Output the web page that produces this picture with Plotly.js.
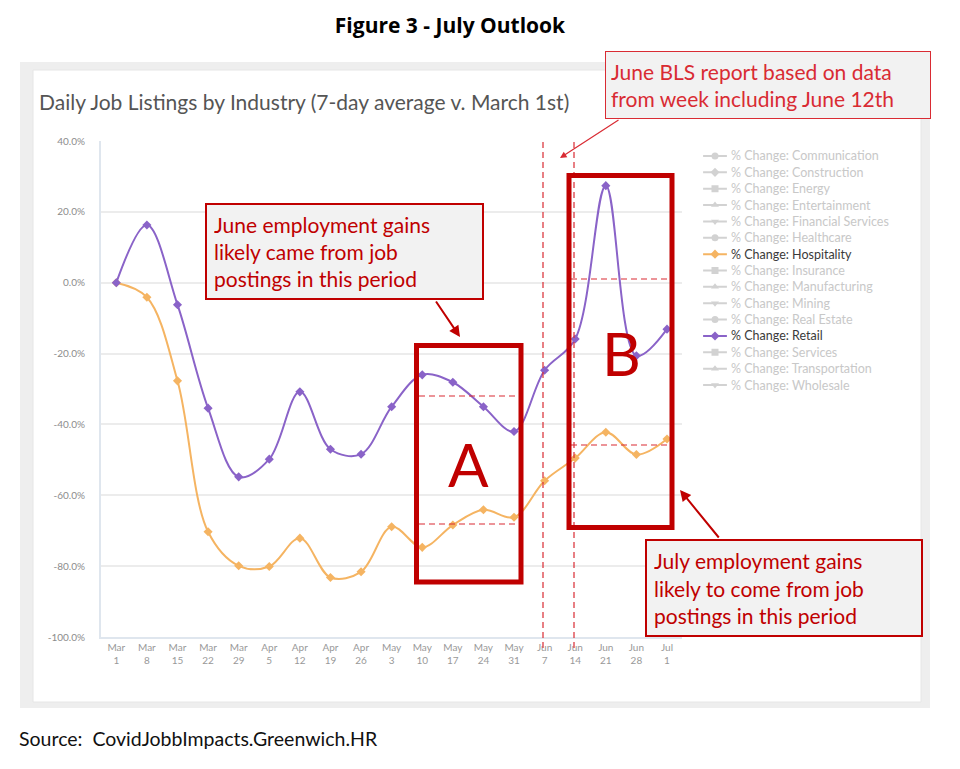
<!DOCTYPE html>
<html>
<head>
<meta charset="utf-8">
<script src="https://cdn.plot.ly/plotly-3.0.1.min.js"></script>
<style>html,body{margin:0;padding:0;background:#fff;}#chart{width:960px;height:769px;}</style>
</head>
<body>
<div id="chart"></div>
<script>
// ---- data ----
const dates = ['Mar<br>1','Mar<br>8','Mar<br>15','Mar<br>22','Mar<br>29','Apr<br>5','Apr<br>12','Apr<br>19','Apr<br>26','May<br>3','May<br>10','May<br>17','May<br>24','May<br>31','Jun<br>7','Jun<br>14','Jun<br>21','Jun<br>28','Jul<br>1'];
const retail = [0, 16.3, -6.2, -35.4, -54.8, -49.8, -30.8, -47.0, -48.4, -35.0, -26.0, -28.1, -35.0, -42.0, -24.7, -15.9, 27.4, -20.6, -13.1];
const hospitality = [0, -4.1, -27.7, -70.3, -79.9, -80.1, -72.1, -83.2, -81.6, -68.9, -74.7, -68.4, -64.1, -66.2, -55.9, -49.5, -42.2, -48.5, -44.1];
const industries = ['Communication','Construction','Energy','Entertainment','Financial Services','Healthcare','Hospitality','Insurance','Manufacturing','Mining','Real Estate','Retail','Services','Transportation','Wholesale'];
const legendSymbols = ['circle','diamond','square','triangle-up','triangle-down','circle','diamond','square','triangle-up','triangle-down','circle','diamond','square','triangle-up','triangle-down'];
const yTicks = [-100,-80,-60,-40,-20,0,20,40];
const yTickText = ['-100.0%','-80.0%','-60.0%','-40.0%','-20.0%','0.0%','20.0%','40.0%'];

// ---- styling / geometry ----
const W = 960, H = 769, L = 101, T = 141, R = 20, B = 132;
const PW = W - L - R, PH = H - T - B;
const X = px => (px - L) / PW;
const Y = py => (T + PH - py) / PH;
const RED = '#c00000';
const RED2 = '#d92b33';
const PURPLE = '#8a63c8';
const ORANGE = '#f5b462';
const FONT = 'Lato, "Open Sans", sans-serif';

const activeColor = name => name === 'Hospitality' ? ORANGE : (name === 'Retail' ? PURPLE : '#d2d2d2');

const traces = [
  {x: dates, y: hospitality, type: 'scatter', mode: 'lines+markers', name: '% Change: Hospitality',
   line: {color: ORANGE, width: 2, shape: 'spline', smoothing: 1}, marker: {symbol: 'diamond', size: 7, color: ORANGE}, hoverinfo: 'skip'},
  {x: dates, y: retail, type: 'scatter', mode: 'lines+markers', name: '% Change: Retail',
   line: {color: PURPLE, width: 2, shape: 'spline', smoothing: 1}, marker: {symbol: 'diamond', size: 7, color: PURPLE}, hoverinfo: 'skip'},
  // legend keys (line segments)
  {x: industries.map(() => 15), y: industries, xaxis: 'x2', yaxis: 'y2', type: 'scatter', mode: 'markers',
   marker: {symbol: 'line-ew', size: 17, line: {width: 2, color: industries.map(activeColor)}}, hoverinfo: 'skip'},
  // legend keys (symbols)
  {x: industries.map(() => 15), y: industries, xaxis: 'x2', yaxis: 'y2', type: 'scatter', mode: 'markers',
   marker: {symbol: legendSymbols, size: 7, color: industries.map(activeColor)}, hoverinfo: 'skip'}
];

const shapes = [
  // outer gray panel and white card
  {type: 'rect', xref: 'paper', yref: 'paper', x0: X(20), x1: X(930), y0: Y(708), y1: Y(62), fillcolor: '#eeeeee', line: {width: 0}, layer: 'below'},
  {type: 'rect', xref: 'paper', yref: 'paper', x0: X(33), x1: X(921), y0: Y(702), y1: Y(70), fillcolor: '#ffffff', line: {width: 1, color: '#e6e6e6'}, layer: 'below'},
  // vertical dashed lines
  {type: 'line', xref: 'paper', yref: 'paper', x0: X(543), x1: X(543), y0: Y(648), y1: Y(138), line: {color: RED2, width: 1.2, dash: '6px,4px'}},
  {type: 'line', xref: 'paper', yref: 'paper', x0: X(574), x1: X(574), y0: Y(648), y1: Y(138), line: {color: RED2, width: 1.2, dash: '6px,4px'}},
  // horizontal dashed lines inside boxes
  {type: 'line', xref: 'paper', yref: 'paper', x0: X(419), x1: X(519), y0: Y(396), y1: Y(396), line: {color: RED2, width: 1.2, dash: '6px,4px'}},
  {type: 'line', xref: 'paper', yref: 'paper', x0: X(419), x1: X(519), y0: Y(524), y1: Y(524), line: {color: RED2, width: 1.2, dash: '6px,4px'}},
  {type: 'line', xref: 'paper', yref: 'paper', x0: X(571), x1: X(670), y0: Y(279), y1: Y(279), line: {color: RED2, width: 1.2, dash: '6px,4px'}},
  {type: 'line', xref: 'paper', yref: 'paper', x0: X(571), x1: X(670), y0: Y(445), y1: Y(445), line: {color: RED2, width: 1.2, dash: '6px,4px'}},
  // boxes A and B
  {type: 'rect', xref: 'paper', yref: 'paper', x0: X(416.5), x1: X(521), y0: Y(582), y1: Y(345.5), line: {color: RED, width: 5}},
  {type: 'rect', xref: 'paper', yref: 'paper', x0: X(569), x1: X(672), y0: Y(527.5), y1: Y(175.5), line: {color: RED, width: 5}}
];

function callout(x0, y0, w, h, text, bw, pad, color, bcolor) {
  return {xref: 'paper', yref: 'paper', x: X(x0), y: Y(y0), xanchor: 'left', yanchor: 'top', showarrow: false,
    text: text, align: 'left', valign: 'middle', width: w - 2 * pad - bw, height: h - 2 * pad - bw,
    bgcolor: '#f2f2f2', bordercolor: bcolor, borderwidth: bw, borderpad: pad,
    font: {family: FONT, size: 21, color: color}};
}
function arrow(tx, ty, hx, hy, color, w) {
  return {xref: 'paper', yref: 'paper', x: X(hx), y: Y(hy), ax: tx - hx, ay: ty - hy, text: '', showarrow: true,
    arrowhead: 2, arrowsize: 1.1, arrowwidth: w, arrowcolor: color, standoff: 0, startstandoff: 0};
}

const annotations = [
  {xref: 'paper', yref: 'paper', x: X(37), y: Y(101), xanchor: 'left', yanchor: 'middle', showarrow: false,
   text: 'Daily Job Listings by Industry (7-day average v. March 1st)', font: {family: FONT, size: 21, color: '#555555'}},
  {xref: 'paper', yref: 'paper', x: X(17), y: Y(738), xanchor: 'left', yanchor: 'middle', showarrow: false,
   text: 'Source:  CovidJobbImpacts.Greenwich.HR', font: {family: FONT, size: 19.5, color: '#111111'}},
  callout(205, 203, 277, 95, 'June employment gains<br>likely came from job<br>postings in this period', 2, 7, RED, RED),
  callout(605, 51, 325, 67, 'June BLS report based on data<br>from week including June 12th', 1, 5, RED2, RED2),
  callout(645, 539, 276, 96, 'July employment gains<br>likely to come from job<br>postings in this period', 2, 7, RED, RED),
  arrow(435, 300, 460, 337, RED, 2),
  arrow(620, 119, 560, 158, RED2, 1.2),
  arrow(720, 539, 680, 490, RED, 2),
  {xref: 'paper', yref: 'paper', x: X(468), y: Y(464), xanchor: 'center', yanchor: 'middle', showarrow: false,
   text: 'A', font: {family: FONT, size: 60, color: RED}},
  {xref: 'paper', yref: 'paper', x: X(621), y: Y(353), xanchor: 'center', yanchor: 'middle', showarrow: false,
   text: 'B', font: {family: FONT, size: 60, color: RED}}
];
industries.forEach(name => {
  const on = name === 'Hospitality' || name === 'Retail';
  annotations.push({xref: 'x2', yref: 'y2', x: 29, y: name, xanchor: 'left', yanchor: 'middle', showarrow: false,
    text: '% Change: ' + name, font: {family: FONT, size: 12.5, color: on ? '#3a3a3a' : '#c8c8c8'}});
});

const layout = {
  width: W, height: H,
  margin: {l: L, r: R, t: T, b: B},
  paper_bgcolor: '#ffffff', plot_bgcolor: 'rgba(0,0,0,0)',
  showlegend: false,
  font: {family: FONT},
  title: {text: '<b>Figure 3 - July Outlook</b>', x: 450 / W, xref: 'container', xanchor: 'center',
          y: 1 - 26 / H, yref: 'container', yanchor: 'middle', font: {family: '"Open Sans", sans-serif', size: 21, color: '#000000'}},
  xaxis: {domain: [0, X(682.3)], type: 'category', categoryorder: 'array', categoryarray: dates, range: [-0.5, 18.5],
          showgrid: false, showline: true, linecolor: '#dfe6ee', linewidth: 2, ticks: '', zeroline: false,
          tickfont: {family: FONT, size: 10, color: '#999999'}, tickangle: 0, fixedrange: true},
  yaxis: {range: [-100, 40], tickmode: 'array', tickvals: yTicks, ticktext: yTickText, showgrid: true, gridcolor: '#ececec', gridwidth: 2,
          showline: true, linecolor: '#dfe6ee', linewidth: 2, zeroline: false, ticks: '', ticklabelstandoff: 12,
          tickfont: {family: FONT, size: 10, color: '#8c8c8c'}, fixedrange: true},
  xaxis2: {domain: [X(700), X(900)], range: [0, 200], anchor: 'y2', visible: false, fixedrange: true},
  yaxis2: {domain: [Y(393.2), Y(147.8)], type: 'category', categoryorder: 'array', categoryarray: industries, range: [14.5, -0.5],
           anchor: 'x2', visible: false, fixedrange: true},
  shapes: shapes,
  annotations: annotations
};

Plotly.newPlot('chart', traces, layout, {displayModeBar: false, staticPlot: true});
</script>
</body>
</html>
